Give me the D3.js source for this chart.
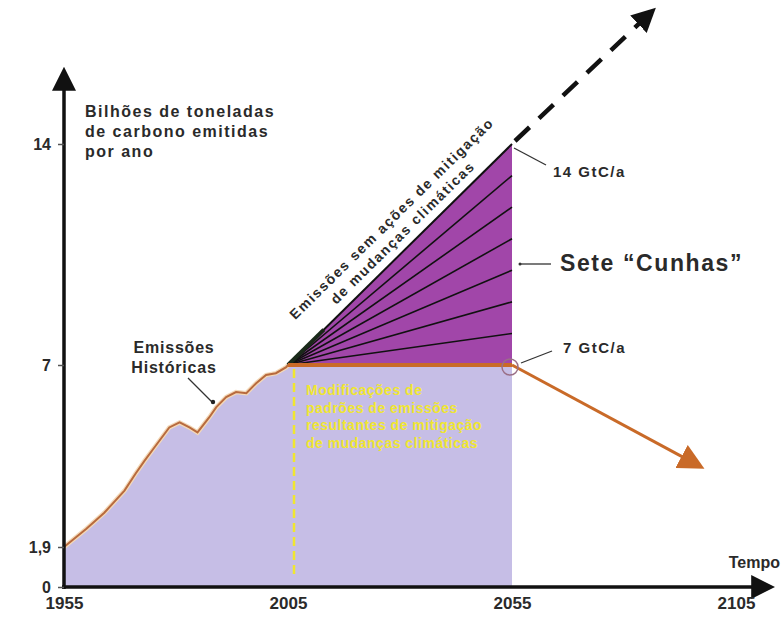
<!DOCTYPE html>
<html>
<head>
<meta charset="utf-8">
<script src="https://cdn.jsdelivr.net/npm/d3@7"></script>
<style>
  body { margin: 0; background: #fff; }
  svg text { font-family: "Liberation Sans", Arial, sans-serif; }
</style>
</head>
<body>
<div id="chart"></div>
<script>
// historical emissions (GtC/yr)
const histYears = [1955, 1960, 1964, 1968.5, 1971, 1973, 1975, 1978.5, 1980.8, 1983, 1984.8, 1987.4, 1989, 1991.2, 1993.4, 1995.7, 1997.9, 2000.1, 2002.3, 2004.6, 2005];
const histValues = [1.9, 2.41, 2.86, 3.48, 3.96, 4.32, 4.66, 5.25, 5.39, 5.25, 5.11, 5.53, 5.82, 6.1, 6.24, 6.21, 6.49, 6.72, 6.77, 6.94, 7];

const wedgeYears = [2005, 2055];
const bauValues = [7, 14];          // emissões sem mitigação
const flatValue = 7;                // trajetória estabilizada
const wedgeLevels = [8, 9, 10, 11, 12, 13];
const bauExtYears = [2055, 2084];
const bauExtValues = [14, 17.9];
const declineYears = [2055, 2097];
const declineValues = [7, 4.2];

const yTicks = [0, 1.9, 7, 14];
const yTickLabels = ['0', '1,9', '7', '14'];
const xTicks = [1955, 2005, 2055, 2105];

const colors = {
  hist: '#c6bee6',
  wedge: '#a146a9',
  orange: '#c96a28',
  yellow: '#f0e630',
  axis: '#111',
  text: '#2a2a2a'
};

const width = 782, height = 619;
const svg = d3.select('#chart').append('svg')
  .attr('width', width).attr('height', height);

const x = d3.scaleLinear().domain([1955, 2105]).range([64, 736]);
// the original picture stretches the lower part of the axis
const y = d3.scaleLinear().domain([0, 1.9, 7, 14]).range([587, 547, 365, 144]);

const defs = svg.append('defs');
function arrowMarker(id, color, size) {
  defs.append('marker')
    .attr('id', id)
    .attr('viewBox', '0 0 10 10')
    .attr('refX', 2).attr('refY', 5)
    .attr('markerWidth', size).attr('markerHeight', size)
    .attr('markerUnits', 'userSpaceOnUse')
    .attr('orient', 'auto')
    .append('path').attr('d', 'M0,0L10,5L0,10Z').attr('fill', color);
}
arrowMarker('arrBlack', colors.axis, 24);
arrowMarker('arrOrange', colors.orange, 26);
arrowMarker('arrDash', colors.axis, 24);

// lavender area: history + flat 7 GtC/a
const histPts = histYears.map((yr, i) => [yr, histValues[i]]);
const areaPts = histPts.concat([[2055, flatValue]]);
svg.append('path')
  .datum(areaPts)
  .attr('fill', colors.hist)
  .attr('d', d3.area().x(d => x(d[0])).y0(y(0)).y1(d => y(d[1])));

// wedge triangle
const tri = [[wedgeYears[0], bauValues[0]], [wedgeYears[1], bauValues[1]], [wedgeYears[1], flatValue]];
svg.append('path')
  .attr('d', 'M' + tri.map(d => [x(d[0]), y(d[1])].join(',')).join('L') + 'Z')
  .attr('fill', colors.wedge);

// wedge dividers
svg.append('g').selectAll('line')
  .data(wedgeLevels)
  .join('line')
  .attr('x1', x(wedgeYears[0])).attr('y1', y(flatValue))
  .attr('x2', x(wedgeYears[1])).attr('y2', d => y(d))
  .attr('stroke', '#111').attr('stroke-width', 1.6);

// top edge of wedge (BAU) solid + dashed extension
svg.append('line')
  .attr('x1', x(wedgeYears[0])).attr('y1', y(bauValues[0]))
  .attr('x2', x(wedgeYears[1])).attr('y2', y(bauValues[1]))
  .attr('stroke', '#111').attr('stroke-width', 2);
svg.append('line')
  .attr('x1', x(wedgeYears[0])).attr('y1', y(bauValues[0]))
  .attr('x2', x(2013)).attr('y2', y(8.12))
  .attr('stroke', '#1a2a1a').attr('stroke-width', 4);
svg.append('line')
  .attr('x1', x(bauExtYears[0]) + 3).attr('y1', y(bauExtValues[0]) - 3)
  .attr('x2', x(bauExtYears[1])).attr('y2', y(bauExtValues[1]))
  .attr('stroke', '#111').attr('stroke-width', 4.5)
  .attr('stroke-dasharray', '20,13')
  .attr('marker-end', 'url(#arrDash)');

// historical curve + flat line
svg.append('path')
  .datum(histPts)
  .attr('fill', 'none')
  .attr('stroke', '#f3d9b8').attr('stroke-width', 4.5)
  .attr('d', d3.line().x(d => x(d[0])).y(d => y(d[1])));
svg.append('path')
  .datum(histPts)
  .attr('fill', 'none')
  .attr('stroke', '#b86a3e').attr('stroke-width', 2)
  .attr('d', d3.line().x(d => x(d[0])).y(d => y(d[1])));
svg.append('line')
  .attr('x1', x(wedgeYears[0])).attr('y1', y(flatValue))
  .attr('x2', x(wedgeYears[1])).attr('y2', y(flatValue))
  .attr('stroke', colors.orange).attr('stroke-width', 4);

// yellow dashed marker at 2005
svg.append('line')
  .attr('x1', x(2005) + 6).attr('y1', y(flatValue) + 4)
  .attr('x2', x(2005) + 6).attr('y2', y(0) - 8)
  .attr('stroke', colors.yellow).attr('stroke-width', 2.5)
  .attr('stroke-dasharray', '9,5');

// yellow caption
const yellowLines = ['Modificações de', 'padrões de emissões', 'resultantes de mitigação', 'de mudanças climáticas'];
svg.append('g').selectAll('text')
  .data(yellowLines)
  .join('text')
  .attr('x', x(2005) + 18)
  .attr('y', (d, i) => 395 + i * 17.5)
  .attr('fill', colors.yellow)
  .attr('font-size', 14)
  .attr('font-weight', 'bold')
  .attr('letter-spacing', 0.5)
  .text(d => d);

// decline arrow
svg.append('line')
  .attr('x1', x(declineYears[0])).attr('y1', y(declineValues[0]))
  .attr('x2', x(declineYears[1]) - 14).attr('y2', y(declineValues[1]) - 6)
  .attr('stroke', colors.orange).attr('stroke-width', 3)
  .attr('marker-end', 'url(#arrOrange)');
svg.append('circle')
  .attr('cx', x(2055) - 2).attr('cy', y(flatValue) + 2)
  .attr('r', 8)
  .attr('fill', 'none')
  .attr('stroke', '#9a6f86').attr('stroke-width', 1.5);

// axes
svg.append('line')
  .attr('x1', x(1955)).attr('y1', y(0) + 2)
  .attr('x2', x(1955)).attr('y2', 86)
  .attr('stroke', colors.axis).attr('stroke-width', 3.5)
  .attr('marker-end', 'url(#arrBlack)');
svg.append('line')
  .attr('x1', x(1955) - 2).attr('y1', y(0))
  .attr('x2', 756).attr('y2', y(0))
  .attr('stroke', colors.axis).attr('stroke-width', 3.5)
  .attr('marker-end', 'url(#arrBlack)');

const yAxis = svg.append('g')
  .attr('transform', `translate(${x(1955)},0)`)
  .call(d3.axisLeft(y).tickValues(yTicks).tickSize(6).tickPadding(7)
    .tickFormat((d, i) => yTickLabels[i]));
yAxis.select('.domain').remove();
yAxis.selectAll('.tick line').attr('stroke', '#555').attr('stroke-width', 1.5);
yAxis.selectAll('.tick text')
  .attr('font-size', 16).attr('font-weight', 'bold').attr('fill', colors.text)
  .style('font-family', '"Liberation Sans", Arial, sans-serif');

const xAxis = svg.append('g')
  .attr('transform', `translate(0,${y(0)})`)
  .call(d3.axisBottom(x).tickValues(xTicks).tickSize(0).tickPadding(10)
    .tickFormat(d3.format('d')));
xAxis.select('.domain').remove();
xAxis.selectAll('.tick text')
  .attr('font-size', 17).attr('font-weight', 'bold').attr('fill', colors.text)
  .style('font-family', '"Liberation Sans Narrow", "Liberation Sans", Arial, sans-serif');

svg.append('text')
  .attr('x', 780).attr('y', 568)
  .attr('text-anchor', 'end')
  .attr('font-size', 16).attr('font-weight', 'bold').attr('fill', colors.text)
  .style('font-family', '"Liberation Sans Narrow", "Liberation Sans", Arial, sans-serif')
  .text('Tempo');

// y title
const yTitle = ['Bilhões de toneladas', 'de carbono emitidas', 'por ano'];
svg.append('g').selectAll('text')
  .data(yTitle)
  .join('text')
  .attr('x', 85)
  .attr('y', (d, i) => 117 + i * 20)
  .attr('font-size', 16).attr('font-weight', 'bold').attr('fill', colors.text)
  .attr('letter-spacing', 1.5)
  .text(d => d);

// annotations
function label(txt, tx, ty, size, anchor) {
  return svg.append('text')
    .attr('x', tx).attr('y', ty)
    .attr('text-anchor', anchor || 'start')
    .attr('font-size', size).attr('font-weight', 'bold').attr('fill', colors.text)
    .text(txt);
}
function leader(x1, y1, x2, y2) {
  svg.append('line')
    .attr('x1', x1).attr('y1', y1).attr('x2', x2).attr('y2', y2)
    .attr('stroke', '#333').attr('stroke-width', 1.3);
}

label('14 GtC/a', 553, 177, 15).attr('letter-spacing', 1.5);
leader(x(2055) + 2, y(14) + 4, 546, 165);

label('Sete “Cunhas”', 560, 271, 23).attr('letter-spacing', 1.6);
leader(x(2055) + 8, 264, 551, 264);
svg.append('circle').attr('cx', x(2055) + 8).attr('cy', 264).attr('r', 1.5).attr('fill', '#333');

label('7 GtC/a', 563, 353, 15).attr('letter-spacing', 1.5);
leader(x(2055) + 9, y(flatValue) - 2, 552, 351);

label('Emissões', 174, 353, 16, 'middle').attr('letter-spacing', 0.8);
label('Históricas', 174, 373, 16, 'middle').attr('letter-spacing', 0.8);
leader(188, 378, 212, 402);
svg.append('circle').attr('cx', 213).attr('cy', 402).attr('r', 2.2).attr('fill', '#222');

// rotated caption along the BAU line
const ang = Math.atan2(y(bauValues[0]) - y(bauValues[1]), x(wedgeYears[1]) - x(wedgeYears[0])) * 180 / Math.PI;
const diagText = ['Emissões sem ações de mitigação', 'de mudanças climáticas'];
const diagPos = [[395, 222], [406, 236]];
svg.append('g').selectAll('text')
  .data(diagText)
  .join('text')
  .attr('transform', (d, i) => `translate(${diagPos[i][0]},${diagPos[i][1]}) rotate(${-ang})`)
  .attr('text-anchor', 'middle')
  .attr('font-size', 14).attr('font-weight', 'bold').attr('fill', colors.text)
  .attr('letter-spacing', 1.6)
  .text(d => d);
</script>
</body>
</html>
